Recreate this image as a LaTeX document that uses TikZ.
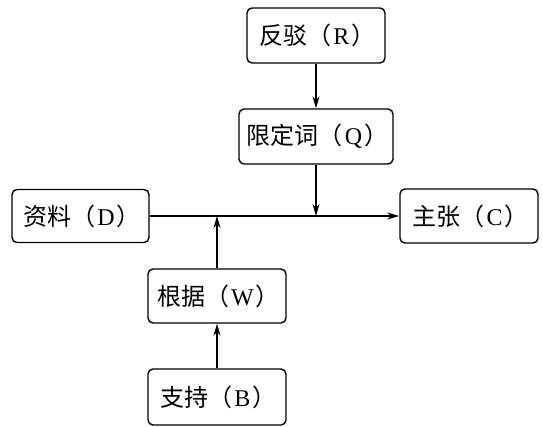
\documentclass[tikz,border=0pt]{standalone}
\usepackage{fontspec}
\setmainfont{Liberation Serif}
\newfontfamily\cjk{Noto Sans CJK SC}
\usetikzlibrary{arrows.meta}
\tikzset{
  box/.style={draw, line width=1.4pt, rounded corners=5pt, minimum width=138pt, minimum height=55pt, inner sep=0pt, font=\fontsize{24}{26}\selectfont},
  arr/.style={line width=1.2pt, -{Stealth[length=12pt,width=7pt]}}
}
\newcommand{\lab}[2]{\hspace{3pt}{\cjk #1（}\hspace{2pt}#2\hspace{2pt}{\cjk ）}\hspace{-0.5em}}
\begin{document}
\begin{tikzpicture}[x=1pt,y=-1pt]
\useasboundingbox (0,0) rectangle (543,426);
\node[box] (R) at (316,35.5) {\lab{反驳}{R}};
\node[box, minimum width=154pt] (Q) at (316,136.5) {\lab{限定词}{Q}};
\node[box, minimum width=137pt, minimum height=53pt] (D) at (80.5,216) {\lab{资料}{D}};
\node[box, minimum height=54pt] (C) at (469,216) {\lab{主张}{C}};
\node[box, minimum height=54pt] (W) at (217,296) {\lab{根据}{W}};
\node[box, minimum height=56pt] (B) at (217,397) {\lab{支持}{B}};
\draw[arr] (D.east) -- (C.west);
\draw[arr] (R.south) -- (Q.north);
\draw[arr] (Q.south) -- (Q.south |- D.east);
\draw[arr] (W.north) -- (W.north |- D.east);
\draw[arr] (B.north) -- (W.south);
\end{tikzpicture}
\end{document}
